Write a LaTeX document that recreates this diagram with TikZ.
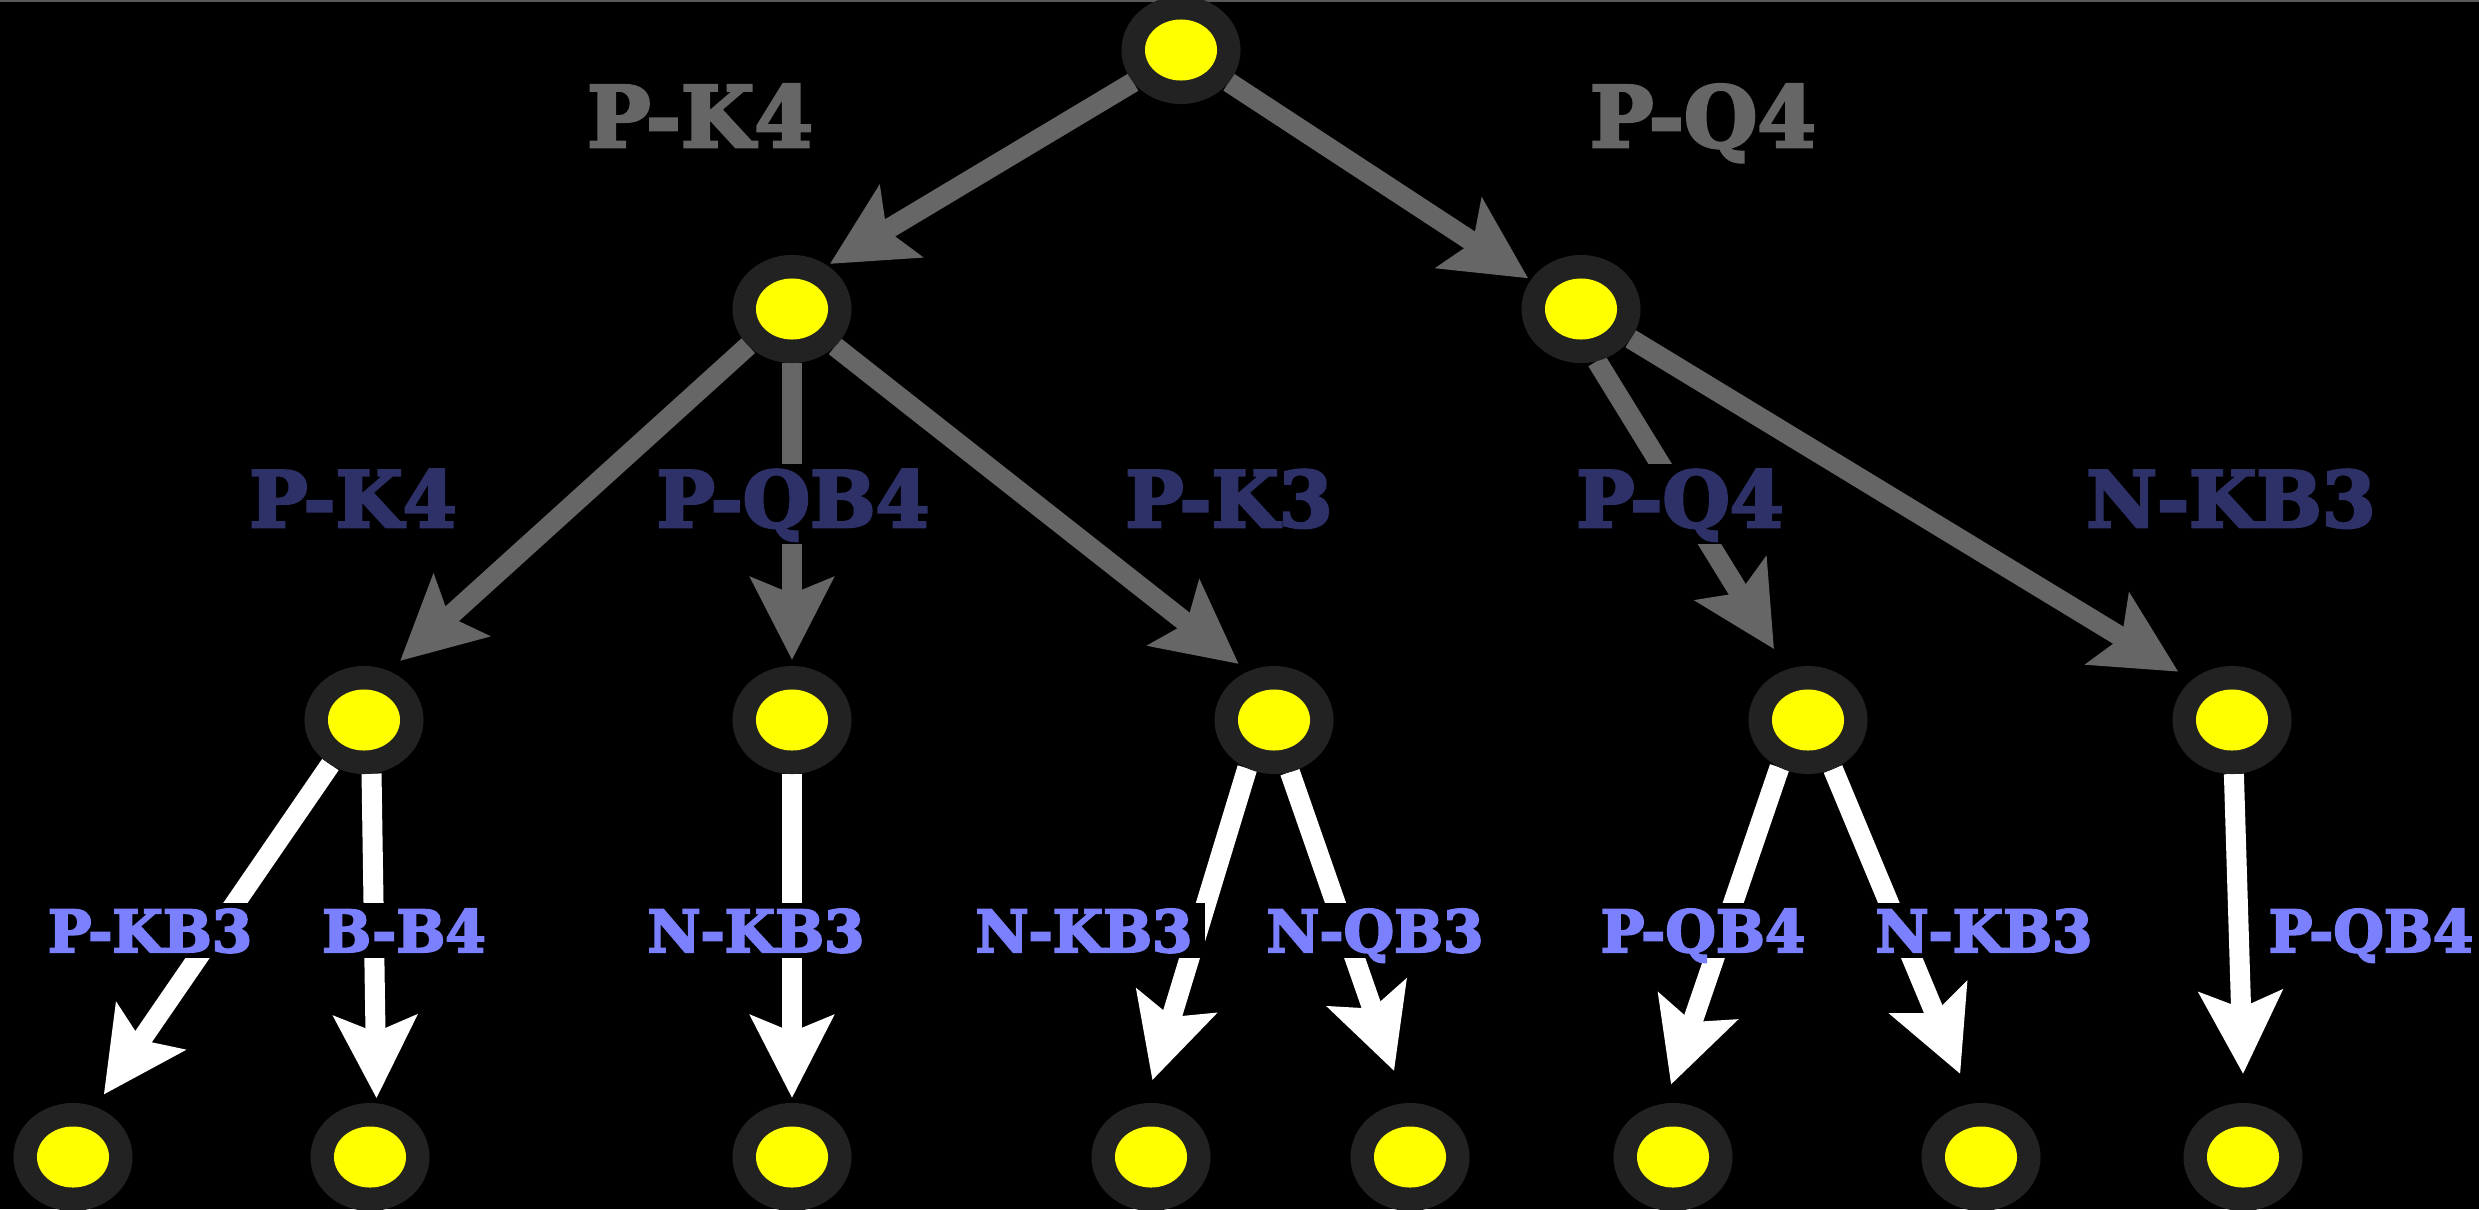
\documentclass[tikz,border=0pt]{standalone}
\usepackage{fontspec}
\setmainfont{DejaVu Serif}[BoldFeatures={FakeBold=3.5}]
\usetikzlibrary{arrows.meta,shapes.geometric,backgrounds}
\definecolor{ring}{HTML}{222222}
\definecolor{pawn}{RGB}{255,255,0}
\definecolor{linegray}{HTML}{666666}
\definecolor{navy}{HTML}{2E3168}
\definecolor{lavender}{HTML}{7B80FF}
\begin{document}
\begin{tikzpicture}[
  x=0.01cm, y=-0.01cm,
  board/.style={ellipse, fill=ring, minimum width=1.19cm, minimum height=1.08cm,
    inner sep=0pt, outer sep=0pt,
    path picture={\fill[pawn] (path picture bounding box.center) ellipse (0.36cm and 0.305cm);}},
  move/.style={line width=0.2cm,
    -{Stealth[length=0.82cm, width=0.82cm, inset=0.16cm]}},
  gray move/.style={move, draw=linegray, fill=linegray},
  white move/.style={move, draw=white, fill=white},
  label/.style={anchor=base, fill=black, inner xsep=0.12cm, inner ysep=0pt, font=\bfseries},
  first/.style={label, text=linegray, text height=0.7cm, text depth=0.1cm,
    font=\bfseries\fontsize{24}{28}\selectfont},
  second/.style={label, text=navy, text height=0.63cm, text depth=0.17cm,
    font=\bfseries\fontsize{22}{26}\selectfont},
  third/.style={label, text=lavender, text height=0.49cm, text depth=0.06cm,
    font=\bfseries\fontsize{16.5}{20}\selectfont}]

  \useasboundingbox (0,0) rectangle (2479,1209);

  % positions
  \node[board] (root) at (1181,50) {};
  \node[board] (a) at (792,309) {};
  \node[board] (b) at (1581,309) {};
  \node[board] (aa) at (364,720) {};
  \node[board] (ab) at (792,720) {};
  \node[board] (ac) at (1274,720) {};
  \node[board] (ba) at (1808,720) {};
  \node[board] (bb) at (2232,720) {};
  \node[board] (aaa) at (73,1157) {};
  \node[board] (aab) at (370,1157) {};
  \node[board] (aba) at (792,1157) {};
  \node[board] (aca) at (1151,1157) {};
  \node[board] (acb) at (1410,1157) {};
  \node[board] (baa) at (1673,1157) {};
  \node[board] (bab) at (1981,1157) {};
  \node[board] (bba) at (2243,1157) {};

  \begin{pgfonlayer}{background}
    \fill[black] (0,0) rectangle (2479,1209);
    \fill[black!65] (0,0) rectangle (2479,2);
    % white's first move
    \draw[gray move, shorten >=0.03cm] (root.214) -- (a.51);
    \draw[gray move, shorten >=0.03cm] (root.326) -- (b.150);
    % black's reply
    \draw[gray move, shorten >=0.15cm] (a.220) -- (aa.63);
    \draw[gray move, shorten >=0.06cm] (a.270) -- (ab.90);
    \draw[gray move, shorten >=0.12cm] (a.319) -- (ac.118);
    \draw[gray move, shorten >=0.24cm] (b.287) -- (ba.113);
    \draw[gray move, shorten >=0.16cm] (b.329) -- (bb.135);
    % white's second move
    \draw[white move, shorten >=0.15cm] (aa.233) -- (aaa.66);
    \draw[white move, shorten >=0.05cm] (aa.278) -- (aab.83);
    \draw[white move, shorten >=0.05cm] (ab.270) -- (aba.90);
    \draw[white move, shorten >=0.24cm] (ac.241) -- (aca.96);
    \draw[white move, shorten >=0.34cm] (ac.287) -- (acb.95);
    \draw[white move, shorten >=0.20cm] (ba.239) -- (baa.99);
    \draw[white move, shorten >=0.32cm] (ba.297) -- (bab.99);
    \draw[white move, shorten >=0.29cm] (bb.272) -- (bba.89);
  \end{pgfonlayer}

  \node[first] (m1) at (700,147) {P-K4};
  \node[first] (m2) at (1703,147) {P-Q4};

  \node[second] (m11) at (353,527) {P-K4};
  \node[second] (m12) at (793,527) {P-QB4};
  \node[second] (m13) at (1229,527) {P-K3};
  \node[second] (m21) at (1680,527) {P-Q4};
  \node[second] (m22) at (2231,527) {N-KB3};

  \node[third] (m111) at (150,952) {P-KB3};
  \node[third] (m112) at (404,952) {B-B4};
  \node[third] (m121) at (756,952) {N-KB3};
  \node[third] (m131) at (1084,952) {N-KB3};
  \node[third] (m132) at (1375,952) {N-QB3};
  \node[third] (m211) at (1703,952) {P-QB4};
  \node[third] (m212) at (1984,952) {N-KB3};
  \node[third] (m221) at (2371,952) {P-QB4};
\end{tikzpicture}
\end{document}
